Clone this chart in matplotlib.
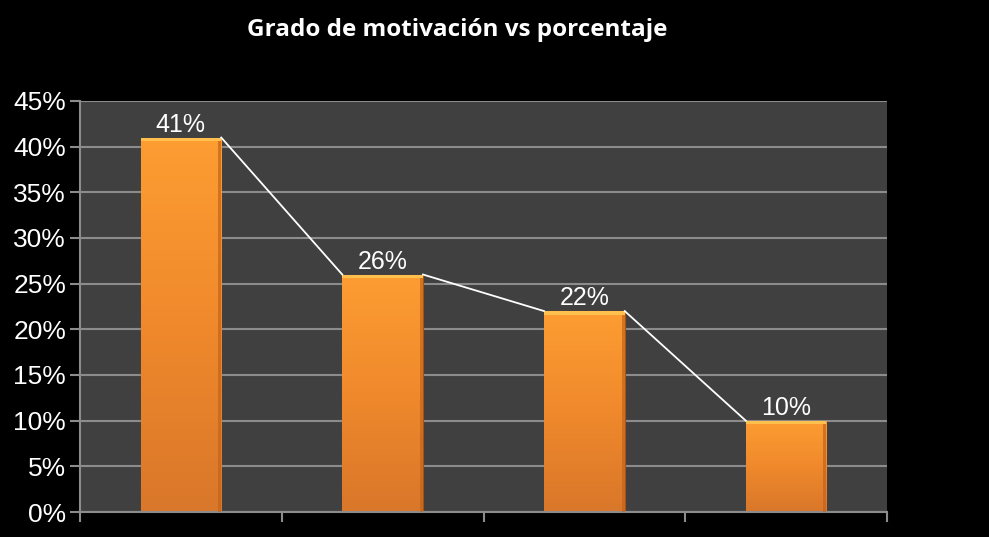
import numpy as np
import matplotlib.pyplot as plt
from matplotlib.colors import LinearSegmentedColormap
from matplotlib.ticker import FuncFormatter, MultipleLocator

# chart data
categories = ["1", "2", "3", "4"]
values = [0.41, 0.26, 0.22, 0.10]
labels = ["41%", "26%", "22%", "10%"]
title = "Grado de motivación vs porcentaje"

bar_w = 0.4

fig = plt.figure(figsize=(9.89, 5.37), dpi=100, facecolor="black")
ax = fig.add_axes([80 / 989, 25 / 537, 807 / 989, 411 / 537])
ax.set_facecolor("#404040")

x = np.arange(len(categories))
ax.set_xlim(-0.5, len(categories) - 0.5)
ax.set_ylim(0, 0.45)

# gridlines
ax.yaxis.set_major_locator(MultipleLocator(0.05))
ax.grid(axis="y", color="#8c8c8c", lw=1.5, zorder=1)
ax.set_axisbelow(True)

# bars with a soft vertical gradient
grad = LinearSegmentedColormap.from_list("org", ["#d9772a", "#f0892c", "#fd9d32"])
bars = ax.bar(x, values, width=bar_w, color="#f39a33", edgecolor="#a85212",
              lw=0.8, zorder=2)
for b in bars:
    x0, y0 = b.get_x(), b.get_y()
    w, h = b.get_width(), b.get_height()
    g = np.linspace(0, 1, 256).reshape(-1, 1)
    im = ax.imshow(g, cmap=grad, origin="lower", aspect="auto",
                   extent=[x0, x0 + w, y0, y0 + h], zorder=2.5)
    im.set_clip_path(b)
    # bevel: bright top edge, darker right edge
    ax.fill_between([x0, x0 + w], y0 + h - 0.004, y0 + h, color="#ffc04d",
                    zorder=2.6, lw=0)
    ax.fill_between([x0 + w - 0.015, x0 + w], y0, y0 + h - 0.004,
                    color="#c2641c", alpha=0.7, zorder=2.6, lw=0)

# series lines: top-right of one bar to top-left of the next
for i in range(len(values) - 1):
    ax.plot([x[i] + bar_w / 2, x[i + 1] - bar_w / 2], [values[i], values[i + 1]],
            color="white", lw=1.3, zorder=3)

# data labels
for xi, v, t in zip(x, values, labels):
    ax.text(xi, v + 0.001, t, color="white", ha="center", va="bottom",
            fontsize=18, family="Liberation Sans", zorder=4)

ax.yaxis.set_major_formatter(FuncFormatter(lambda v, p: f"{v * 100:.0f}%"))
ax.tick_params(axis="y", colors="#8c8c8c", labelcolor="white", length=7,
               width=1.5, labelsize=19, pad=3)
for lab in ax.get_yticklabels():
    lab.set_family("Liberation Sans")

ax.set_xticks(np.arange(-0.5, len(categories), 1.0))
ax.set_xticklabels([])
ax.tick_params(axis="x", colors="#8c8c8c", length=7, width=1.5)

for s in ["top", "right"]:
    ax.spines[s].set_visible(False)
for s in ["left", "bottom"]:
    ax.spines[s].set_color("#8c8c8c")
    ax.spines[s].set_linewidth(1.5)

fig.text(457 / 989, 1 - 30 / 537, title, color="white", ha="center",
         va="center", fontsize=17.5, fontweight="bold", family="Open Sans")

fig.savefig("out.png", dpi=100, facecolor="black")
